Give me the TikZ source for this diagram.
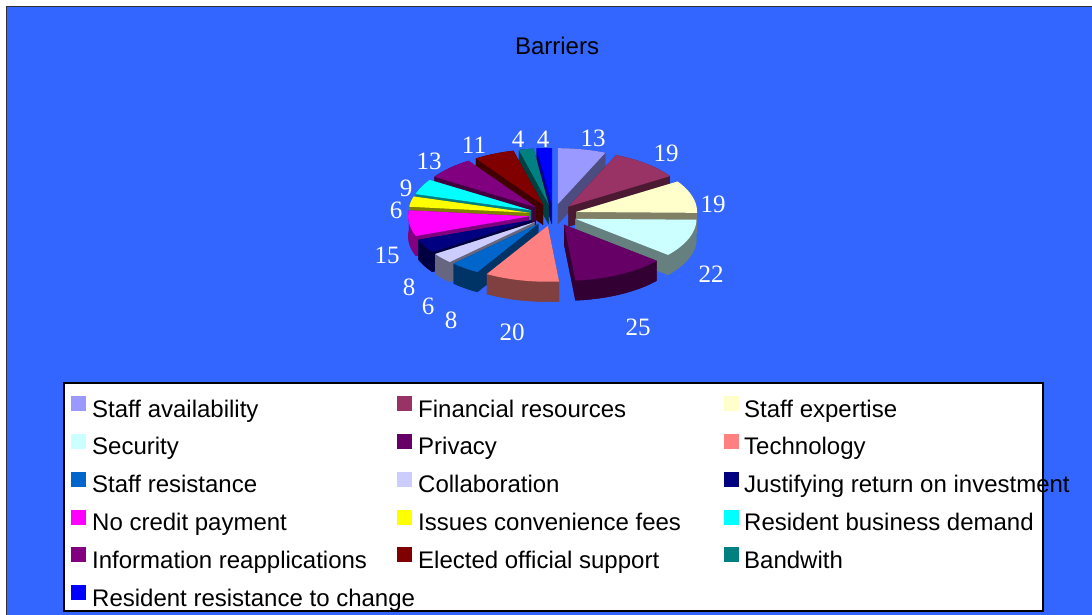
\documentclass[tikz,border=0pt]{standalone}
\usepackage{fontspec}
\setmainfont{Liberation Sans}
\newfontfamily\valfont{Liberation Serif}
\definecolor{bg}{HTML}{3366FF}
\definecolor{slA}{HTML}{9999FF}
\definecolor{slB}{HTML}{993366}
\definecolor{slC}{HTML}{FFFFCC}
\definecolor{slD}{HTML}{CCFFFF}
\definecolor{slE}{HTML}{660066}
\definecolor{slF}{HTML}{FF8080}
\definecolor{slG}{HTML}{0066CC}
\definecolor{slH}{HTML}{CCCCFF}
\definecolor{slI}{HTML}{000080}
\definecolor{slJ}{HTML}{FF00FF}
\definecolor{slK}{HTML}{FFFF00}
\definecolor{slL}{HTML}{00FFFF}
\definecolor{slM}{HTML}{800080}
\definecolor{slN}{HTML}{800000}
\definecolor{slO}{HTML}{008080}
\definecolor{slP}{HTML}{0000FF}
\begin{document}
\begin{tikzpicture}[x=1pt,y=-1pt,
  lgtext/.style={anchor=base west, font=\fontsize{24}{28}\selectfont, inner sep=0pt},
  swatch/.style={minimum width=15pt, minimum height=15pt, inner sep=0pt, anchor=north west},
  val/.style={font=\valfont\fontsize{25}{28}\selectfont, text=white, inner sep=0pt}]
\path[fill=white] (0,0) rectangle (1092,615);
\useasboundingbox (0,0) rectangle (1092,615);
\draw[fill=bg, draw=black!80, line width=1.5pt] (6.5,6.5) rectangle (1100,625);
\node[font=\fontsize{24}{28}\selectfont, inner sep=0pt] (title) at (557,46) {Barriers};
% pie
\begin{scope}[shift={(553,215)}, yscale=-1]
\foreach \a/\b/\c in {-262.871/-270/slP, -255.743/-262.871/slO, 90/66.832/slA, -236.139/-255.743/slN,
  66.832/32.970/slB, -212.970/-236.139/slM, -196.931/-212.970/slL, 32.970/-0.891/slC,
  -186.238/-196.931/slK, -159.505/-186.238/slJ, -0.891/-40.099/slD, -145.248/-159.505/slI,
  -134.554/-145.248/slH, -120.297/-134.554/slG, -40.099/-84.653/slE, -84.653/-120.297/slF} {
  \pgfmathsetmacro\m{(\a+\b)/2}
  \pgfmathsetmacro\ox{24*cos(\m)}
  \pgfmathsetmacro\oy{11*sin(\m)}
  \pgfmathsetmacro\ax{\ox+121*cos(\a)}
  \pgfmathsetmacro\ay{\oy+56*sin(\a)}
  \pgfmathsetmacro\bx{\ox+121*cos(\b)}
  \pgfmathsetmacro\by{\oy+56*sin(\b)}
  \fill[\c!50!black] (\ox,{\oy-20}) -- plot[domain=\a:\b, samples=40, variable=\t] ({\ox+121*cos(\t)},{\oy-20+56*sin(\t)}) -- cycle;
  \fill[\c!50!black] (\ox,\oy) -- (\ax,\ay) -- (\ax,{\ay-20}) -- (\ox,{\oy-20}) -- cycle;
  \fill[\c!50!black] (\ox,\oy) -- (\bx,\by) -- (\bx,{\by-20}) -- (\ox,{\oy-20}) -- cycle;
  \fill[\c!50!black] plot[domain=\a:\b, samples=40, variable=\t] ({\ox+121*cos(\t)},{\oy+56*sin(\t)}) -- plot[domain=\b:\a, samples=40, variable=\t] ({\ox+121*cos(\t)},{\oy-20+56*sin(\t)}) -- cycle;
  \fill[\c] (\ox,\oy) -- plot[domain=\a:\b, samples=40, variable=\t] ({\ox+121*cos(\t)},{\oy+56*sin(\t)}) -- cycle;
}
\end{scope}
% value labels
\node[val] (v1) at (593,138) {13};
\node[val] (v2) at (666,153) {19};
\node[val] (v3) at (713,204) {19};
\node[val] (v4) at (711,274) {22};
\node[val] (v5) at (638,327) {25};
\node[val] (v6) at (512,332) {20};
\node[val] (v7) at (451,320) {8};
\node[val] (v8) at (428,306) {6};
\node[val] (v9) at (409,287) {8};
\node[val] (v10) at (387,255) {15};
\node[val] (v11) at (396,210) {6};
\node[val] (v12) at (406,188) {9};
\node[val] (v13) at (429,161) {13};
\node[val] (v14) at (474,145) {11};
\node[val] (v15) at (518,139) {4};
\node[val] (v16) at (543,139) {4};
% legend
\draw[fill=white, draw=black, line width=1.2pt] (64,383) rectangle (1043,611);
\foreach \r/\ca/\ta/\cb/\tb/\cc/\tc in {
  0/slA/Staff availability/slB/Financial resources/slC/Staff expertise,
  1/slD/Security/slE/Privacy/slF/Technology,
  2/slG/Staff resistance/slH/Collaboration/slI/Justifying return on investment,
  3/slJ/No credit payment/slK/Issues convenience fees/slL/Resident business demand,
  4/slM/Information reapplications/slN/Elected official support/slO/Bandwith} {
  \node[swatch, fill=\ca] (s\r a) at (71,{396+37.8*\r}) {};
  \node[lgtext] (t\r a) at (92,{417+37.8*\r}) {\ta};
  \node[swatch, fill=\cb] (s\r b) at (397,{396+37.8*\r}) {};
  \node[lgtext] (t\r b) at (418,{417+37.8*\r}) {\tb};
  \node[swatch, fill=\cc] (s\r c) at (724,{396+37.8*\r}) {};
  \node[lgtext] (t\r c) at (744,{417+37.8*\r}) {\tc};
}
\node[swatch, fill=slP] (s5a) at (71,585) {};
\node[lgtext] (t5a) at (92,606) {Resident resistance to change};
\end{tikzpicture}
\end{document}
